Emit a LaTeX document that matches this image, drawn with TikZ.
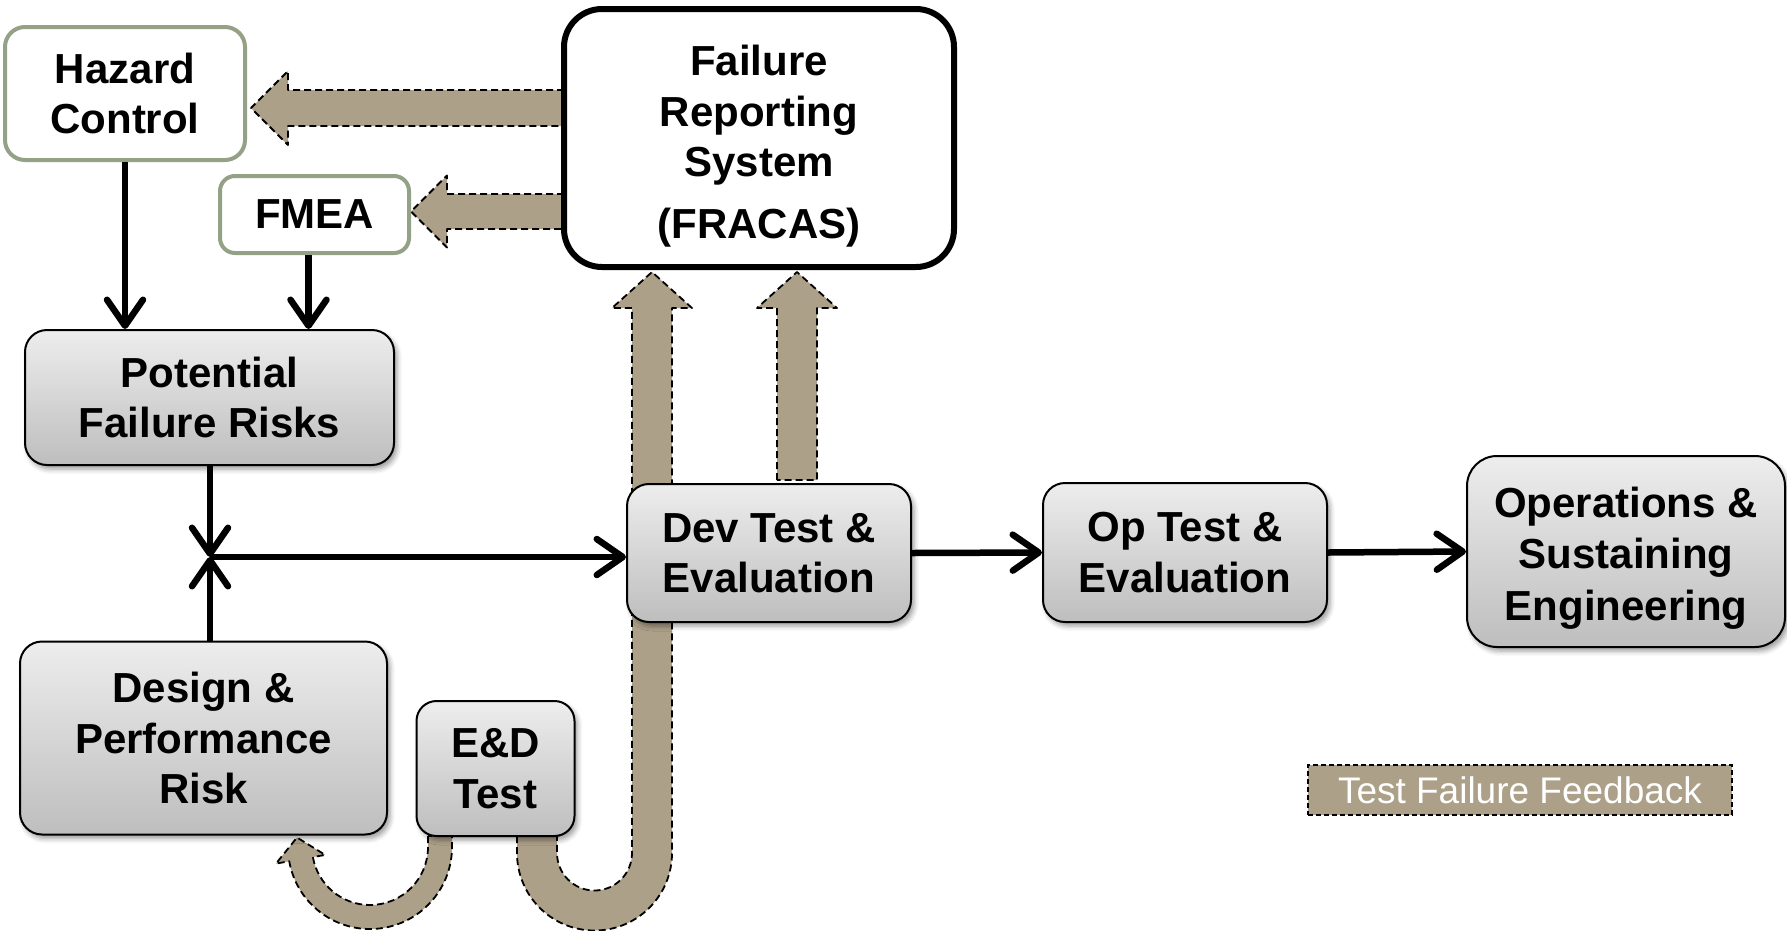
\documentclass[tikz,border=0pt]{standalone}
\usepackage{fontspec}
\setmainfont{Liberation Sans}
\usetikzlibrary{arrows.meta,calc,shadows.blur}
\definecolor{fbbrown}{RGB}{173,160,137}
\definecolor{hzgreen}{RGB}{148,161,134}
\definecolor{boxtop}{RGB}{237,237,237}
\definecolor{boxbot}{RGB}{190,190,190}
\begin{document}
\begin{tikzpicture}[x=1pt,y=-1pt,
  txt/.style={font=\fontsize{42}{50.5}\selectfont\bfseries, align=center, inner sep=0pt},
  graybox/.style={txt, draw=black, line width=2pt, rounded corners=22pt,
    top color=boxtop, bottom color=boxbot,
    blur shadow={shadow xshift=3pt, shadow yshift=-4pt, shadow blur radius=5pt, shadow opacity=40}},
  greenbox/.style={txt, draw=hzgreen, line width=4pt, fill=white, rounded corners=20pt},
  flow/.style={line width=6.5pt, -{Straight Barb[length=26pt,width=36pt,line cap=round,line join=round]}},
  fb/.style={fill=fbbrown, draw=black, line width=1.8pt, dash pattern=on 7pt off 4pt, line join=round},
]
\useasboundingbox (0,0) rectangle (1787,930);

% feedback (block) arrows
\draw[fb] (564,90) -- (288,90) -- (288,71) -- (251,108) -- (288,145) -- (288,126) -- (564,126) -- cycle;
\draw[fb] (564,194) -- (447,194) -- (447,175.5) -- (411,211.5) -- (447,247.5) -- (447,229) -- (564,229) -- cycle;
\draw[fb] (777,480) -- (777,308) -- (757,308) -- (797,272) -- (837,308) -- (817,308) -- (817,480) -- cycle;
\draw[fb] (517,836) -- (517,853) arc[start angle=180, end angle=0, radius=77.5]
  -- (672,308) -- (692,308) -- (652,272) -- (612,308) -- (632,308) -- (632,853)
  arc[start angle=0, end angle=180, radius=37.5] -- (557,836) -- cycle;
\draw[fb] (428,836) -- (428,847) arc[start angle=0, end angle=170, radius=58]
  -- ($(370,847)+(170:45.5)$) -- (297,837.5) -- ($(370,847)+(170:95.5)$)
  -- ($(370,847)+(170:82)$) arc[start angle=170, end angle=0, radius=82] -- (452,836) -- cycle;

% boxes
\node[greenbox, minimum width=240pt, minimum height=133pt] (haz) at (125,93.5) {Hazard\\Control};
\node[greenbox, rounded corners=15pt, minimum width=189pt, minimum height=77pt] (fmea) at (314.5,214.5) {FMEA};
\node[txt, draw=black, line width=6pt, fill=white, rounded corners=38pt, minimum width=390pt, minimum height=258pt] (fracas) at (759,138) {\rule{0pt}{47pt}Failure\\Reporting\\System\\[11pt](FRACAS)};
\node[graybox, minimum width=369pt, minimum height=135pt] (pfr) at (209.5,397.5) {Potential\\Failure Risks};
\node[graybox, minimum width=367pt, minimum height=193pt] (dpr) at (203.5,738) {Design \&\\Performance\\Risk};
\node[graybox, rounded corners=20pt, minimum width=158pt, minimum height=135pt] (ed) at (495.5,768.5) {E\&D\\Test};
\node[graybox, minimum width=284pt, minimum height=138pt] (dev) at (769,553) {Dev Test \&\\Evaluation};
\node[graybox, minimum width=284pt, minimum height=139pt] (op) at (1185,552.5) {Op Test \&\\Evaluation};
\node[graybox, rounded corners=30pt, font=\fontsize{42}{51.5}\selectfont\bfseries, minimum width=318pt, minimum height=191pt] (ops) at (1626,551.5) {\rule{0pt}{43pt}Operations \&\\Sustaining\\Engineering};

% legend
\node[fill=fbbrown, draw=black, line width=1.5pt, dash pattern=on 5pt off 3pt, minimum width=424pt, minimum height=50pt, inner sep=0pt, text=white, font=\fontsize{37}{40}\selectfont] (legend) at (1520,790) {Test Failure Feedback};

% flow arrows
\coordinate (J) at (210,557);
\draw[flow] (haz.south) -- (haz.south |- pfr.north);
\draw[flow] ([xshift=-6pt]fmea.south) -- ([xshift=-6pt]fmea.south |- pfr.north);
\draw[flow] (J |- pfr.south) -- (J);
\draw[flow] (J |- dpr.north) -- (J);
\draw[flow] (J) -- (J -| dev.west);
\draw[flow] (dev.east) -- (op.west);
\draw[flow] (op.east) -- (ops.west);
\end{tikzpicture}
\end{document}
